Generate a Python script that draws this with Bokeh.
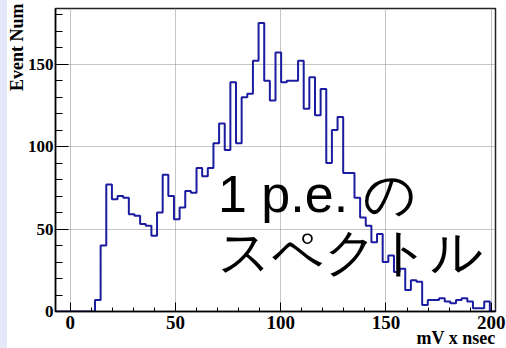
import numpy as np
from bokeh.plotting import figure
from bokeh.models import Range1d, SingleIntervalTicker, Label, Title
from bokeh.embed import file_html
from bokeh.resources import INLINE

# ---- data ----
x_min = -7.0
bin_width = 2.68
counts = [0, 0, 0, 0, 0, 0, 0,
          7, 40, 77, 68, 70, 69, 59, 58, 53, 52, 46,
          60, 83, 70, 56, 63, 73, 72, 87, 82, 87,
          102, 114, 98, 139, 102, 130, 132, 152, 175, 140,
          128, 157, 139, 140, 140, 152, 123, 142, 119, 135,
          90, 110, 118, 84, 84, 69, 57, 52, 42, 47,
          30, 34, 24, 26, 13, 19, 18, 4, 7, 7,
          8, 6, 5, 7, 8, 6, 2, 2, 6, 0]
x_ticks_interval = 50
y_ticks_interval = 50
x_title = "mV x nsec"
y_title = "Event Num"
note_line1 = "1 p.e. の"
note_line2 = "スペクトル"

counts = np.array(counts, dtype=float)
edges = x_min + bin_width * np.arange(len(counts) + 1)
x_max = edges[-1]
y_max = 1.05 * counts.max()

xs = np.repeat(edges, 2)[1:-1]
ys = np.repeat(counts, 2)

FRAME_W, FRAME_H = 440, 303
p = figure(width=506, height=348,
           x_range=Range1d(x_min, x_max), y_range=Range1d(0, y_max),
           output_backend="svg", toolbar_location=None,
           min_border_left=55, min_border_right=11,
           min_border_top=8, min_border_bottom=37)
p.background_fill_color = "white"
p.border_fill_alpha = 0
p.outline_line_color = "#222222"
p.outline_line_width = 1.5

xt = SingleIntervalTicker(interval=x_ticks_interval, num_minor_ticks=5)
yt = SingleIntervalTicker(interval=y_ticks_interval, num_minor_ticks=5)
p.xaxis.ticker = xt
p.yaxis.ticker = yt
p.xgrid.ticker = xt
p.ygrid.ticker = yt

for g in (p.xgrid, p.ygrid):
    g.grid_line_color = "#8a8a8a"
    g.grid_line_dash = "1 1"
    g.grid_line_width = 1

for ax in (p.xaxis, p.yaxis):
    ax.axis_line_color = "black"
    ax.axis_line_width = 1.5
    ax.major_tick_line_color = "black"
    ax.minor_tick_line_color = "black"
    ax.major_tick_out = 0
    ax.minor_tick_out = 0
    ax.major_label_text_font = "Liberation Serif"
    ax.major_label_text_font_style = "bold"
    ax.major_label_text_color = "black"

p.xaxis.major_tick_in = 9
p.xaxis.minor_tick_in = 4
p.xaxis.major_label_text_font_size = "19px"
p.xaxis.major_label_standoff = 4

p.yaxis.major_tick_in = 13
p.yaxis.minor_tick_in = 7
p.yaxis.major_label_text_font_size = "17px"
p.yaxis.major_label_standoff = 2

title_style = dict(text_font="Liberation Serif", text_font_style="bold",
                   text_font_size="18px", text_color="black")
y_t = Title(text=y_title, align="right", vertical_align="top",
            offset=-5, **title_style)
x_t = Title(text=x_title, align="right", vertical_align="bottom", **title_style)
try:
    y_t.standoff = -8
except Exception:
    y_t.standoff = 0
try:
    x_t.standoff = -12
except Exception:
    x_t.standoff = 0
p.add_layout(y_t, "left")
p.add_layout(x_t, "below")

p.line(xs, ys, line_color="#1c1ca0", line_width=2)

px_per_y = FRAME_H / y_max
px_per_x = FRAME_W / (x_max - x_min)

note_x = x_min + 162.5 / px_per_x
p.add_layout(Label(x=note_x, y=118.0 / px_per_y, text=note_line1,
                   text_font="Liberation Sans", text_font_size="52px",
                   text_color="black", text_baseline="alphabetic"))
p.add_layout(Label(x=note_x, y=60.0 / px_per_y, text=note_line2,
                   text_font="Liberation Sans", text_font_size="52px",
                   text_color="black", text_baseline="alphabetic"))

html = file_html(p, INLINE)
style = ("<style>html, body { background: linear-gradient(to right, #e4e8f8 0px, "
         "#e4e8f8 7px, #ffffff 7px, #ffffff 100%) !important; }</style>")
html = html.replace("</head>", style + "</head>", 1)
open("out.html", "w").write(html)
